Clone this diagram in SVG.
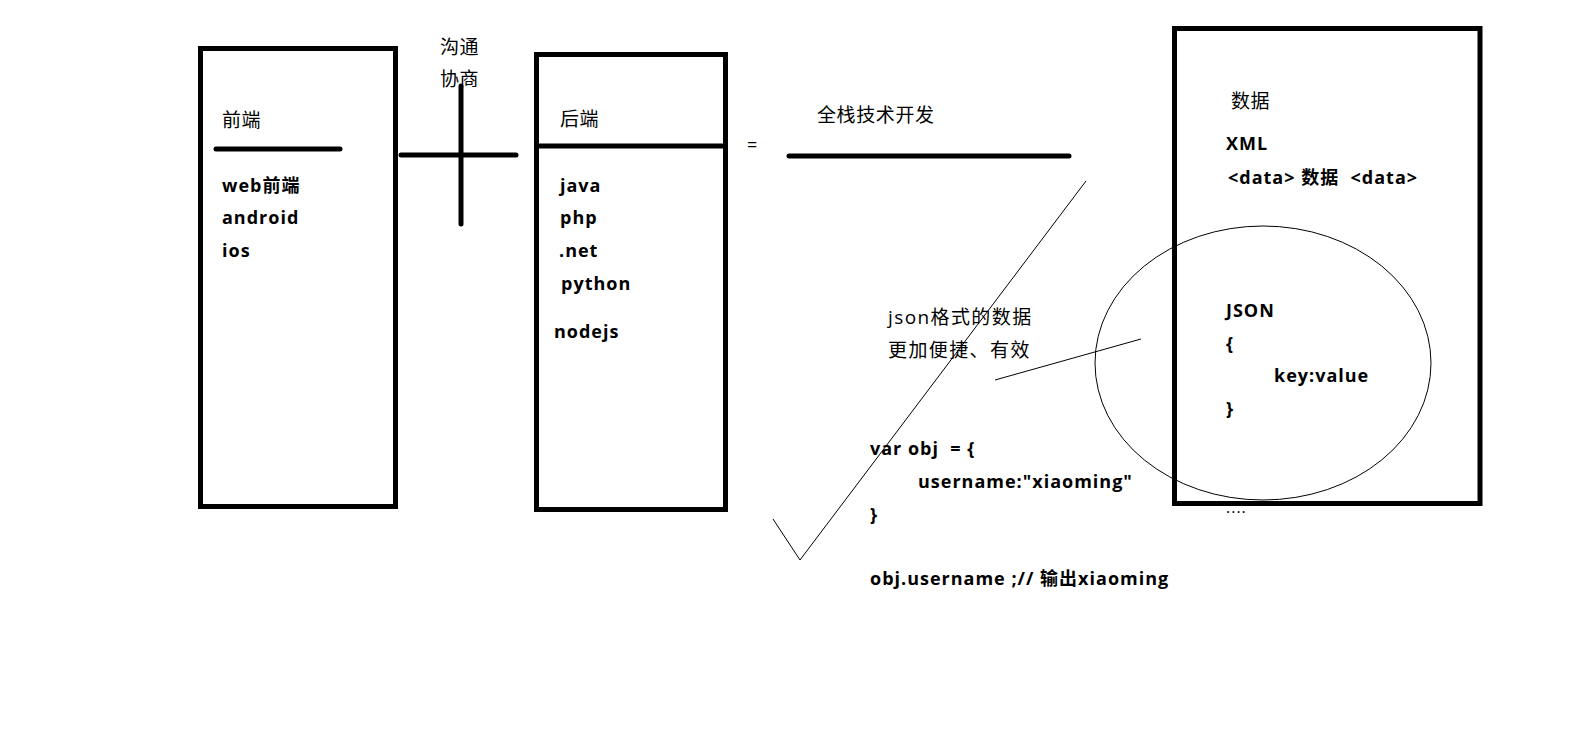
<svg xmlns="http://www.w3.org/2000/svg" width="1594" height="737" viewBox="0 0 1594 737">
<style>
.box{fill:none;stroke:#000;stroke-width:5}
.thick{fill:none;stroke:#000;stroke-width:5;stroke-linecap:round}
.thin{fill:none;stroke:#000;stroke-width:1}
text{font-family:"Open Sans","Noto Sans CJK SC",sans-serif;font-size:18px;fill:#000}
.b{font-weight:bold;letter-spacing:1px}
.r{font-weight:normal;font-size:19px;letter-spacing:0.6px}
</style>
<rect width="1594" height="737" fill="#fff"/>
<g id="frontend">
<rect class="box" x="200.5" y="48.5" width="195" height="458"/>
<text class="r" x="222" y="127">前端</text>
<line class="thick" x1="216" y1="149" x2="340" y2="149"/>
<text class="b" x="222" y="192">web前端</text>
<text class="b" x="222" y="224">android</text>
<text class="b" x="222" y="257">ios</text>
</g>
<g id="negotiate">
<text class="r" x="440" y="54">沟通</text>
<text class="r" x="440" y="86">协商</text>
</g>
<g id="backend">
<rect class="box" x="536.5" y="54.5" width="189" height="455"/>
<line class="box" x1="536.5" y1="146" x2="725.5" y2="146"/>
<text class="r" x="560" y="126">后端</text>
<text class="b" x="560" y="192">java</text>
<text class="b" x="560" y="224">php</text>
<text class="b" x="559" y="257">.net</text>
<text class="b" x="561" y="290">python</text>
<text class="b" x="554" y="338">nodejs</text>
</g>
<g id="fullstack">
<text x="747" y="151" style="font-size:18px">=</text>
<text class="r" x="817" y="122">全栈技术开发</text>
</g>
<g id="data">
<rect class="box" x="1174.5" y="28.5" width="305.5" height="475"/>
<text class="r" x="1231" y="108">数据</text>
<text class="b" x="1226" y="150">XML</text>
<text class="b" x="1228" y="184" style="white-space:pre">&lt;data&gt; 数据  &lt;data&gt;</text>
<text class="b" x="1226" y="317">JSON</text>
<text class="b" x="1226" y="350">{</text>
<text class="b" x="1274" y="382">key:value</text>
<text class="b" x="1226" y="415">}</text>
<text x="1226" y="513" style="font-size:16px;letter-spacing:1px">....</text>
</g>
<g id="json-ellipse">
<ellipse class="thin" cx="1263" cy="363" rx="168" ry="137"/>
</g>
<g id="json-note">
<text class="r" x="888" y="324" style="letter-spacing:1.4px">json格式的数据</text>
<text class="r" x="888" y="357" style="letter-spacing:1.4px">更加便捷、有效</text>
</g>
<g id="code">
<text class="b" x="870" y="455" style="white-space:pre">var obj  = {</text>
<text class="b" x="918" y="488">username:"xiaoming"</text>
<text class="b" x="870" y="521">}</text>
<text class="b" x="870" y="585">obj.username ;// 输出xiaoming</text>
</g>
<g id="connectors">
<line class="thick" x1="401" y1="155" x2="516" y2="155"/>
<line class="thick" x1="461" y1="86" x2="461" y2="224"/>
<line class="thick" x1="789" y1="156" x2="1069" y2="156"/>
<polyline class="thin" points="773,519 800,560 1086,181"/>
<line class="thin" x1="995" y1="380" x2="1141" y2="339"/>
</g>
</svg>
